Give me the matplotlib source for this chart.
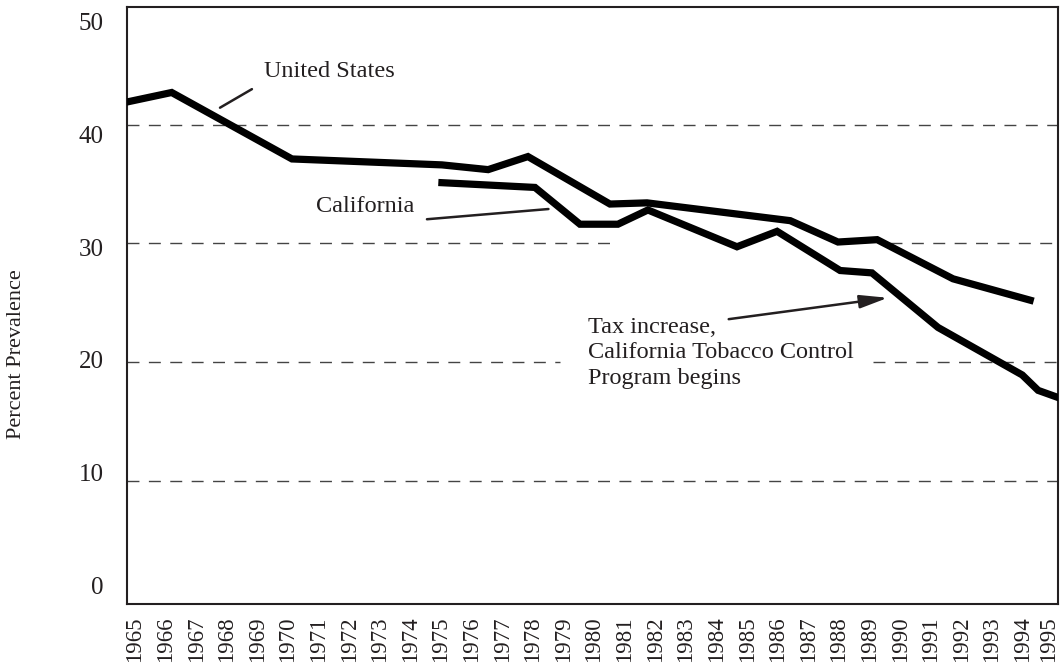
import matplotlib.pyplot as plt
import matplotlib.transforms as mtransforms

# smoking prevalence (x are fractional years where the vertices sit)
us_years = [1964.74, 1966.2, 1970.13, 1975.03, 1976.54, 1977.84, 1980.52, 1981.73,
            1986.41, 1987.97, 1989.25, 1991.73, 1994.25]
us_pct = [41.9, 42.7, 37.1, 36.6, 36.2, 37.3, 33.3, 33.4, 31.9, 30.1, 30.3, 27.0, 25.2]

ca_years = [1975.03, 1978.07, 1979.54, 1980.78, 1981.76, 1984.67, 1985.98, 1988.04,
            1989.08, 1991.24, 1993.99, 1994.51, 1995.16]
ca_pct = [35.1, 34.7, 31.6, 31.6, 32.8, 29.7, 31.0, 27.7, 27.5, 22.9, 18.9, 17.6, 17.0]

year_labels = [str(y) for y in range(1965, 1996)]
pct_labels = ['0', '10', '20', '30', '40', '50']
grid_vals = [10, 20, 30, 40]

INK = '#231f20'
plt.rcParams['font.family'] = ['Liberation Serif', 'DejaVu Serif']

fig = plt.figure(figsize=(10.61, 6.70), dpi=100)
ax = fig.add_axes([0.1197, 0.0985, 0.8775, 0.891])

# dashed reference lines (the 20 and 30 lines are broken in the original)
gaps = {20: (0.465, 0.801), 30: (0.521, 0.82)}
for g in grid_vals:
    kw = dict(color='#444444', lw=1.0, dashes=(8.6, 6.8), zorder=1)
    if g in gaps:
        ax.axhline(g, 0, gaps[g][0], **kw)
        ax.axhline(g, gaps[g][1], 1, **kw)
    else:
        ax.axhline(g, **kw)

ax.plot(us_years, us_pct, color='black', lw=5.2, solid_joinstyle='miter', zorder=3)
ax.plot(ca_years, ca_pct, color='black', lw=5.2, solid_joinstyle='miter', zorder=3)

ax.set_xlim(1964.74, 1995.16)
ax.set_ylim(-0.4, 49.9)

ax.set_xticks(range(1965, 1996))
ax.set_xticklabels(year_labels, rotation=90, fontsize=16.5, color=INK)
# y labels in the original sit a little off the dashed lines
ax.set_yticks([1.14 + 0.951 * int(v) for v in pct_labels])
ax.set_yticklabels(pct_labels, fontsize=18, color=INK)
ax.tick_params(axis='x', length=0, pad=9)
ax.tick_params(axis='y', length=0, pad=17)

# keep the last year label inside the figure edge
last = ax.xaxis.get_major_ticks()[-1].label1
last.set_transform(last.get_transform() +
                   mtransforms.ScaledTranslation(-5 / 100, 0, fig.dpi_scale_trans))

for s in ax.spines.values():
    s.set_linewidth(1.5)
    s.set_color(INK)

fig.text(0.016, 0.472, 'Percent Prevalence', rotation=90, fontsize=16,
         color=INK, ha='center', va='center')

# annotations
ax.text(1969.2, 44.5, 'United States', fontsize=17.5, color=INK, va='center')
ax.annotate('', xy=(1968.9, 43.1), xytext=(1967.7, 41.3),
            arrowprops=dict(arrowstyle='-', color=INK, lw=1.8))

ax.text(1970.9, 33.1, 'California', fontsize=17.5, color=INK, va='center')
ax.annotate('', xy=(1978.6, 32.9), xytext=(1974.45, 32.0),
            arrowprops=dict(arrowstyle='-', color=INK, lw=1.8))

ax.text(1979.8, 20.75, 'Tax increase,\nCalifornia Tobacco Control\nProgram begins',
        fontsize=17.5, color=INK, va='center', linespacing=1.3)
ax.annotate('', xy=(1989.6, 25.4), xytext=(1984.4, 23.6),
            arrowprops=dict(arrowstyle='-|>,head_length=0.85,head_width=0.2',
                            mutation_scale=20, color=INK, lw=1.8,
                            shrinkA=0, shrinkB=0))

fig.savefig('out.png', dpi=100)
